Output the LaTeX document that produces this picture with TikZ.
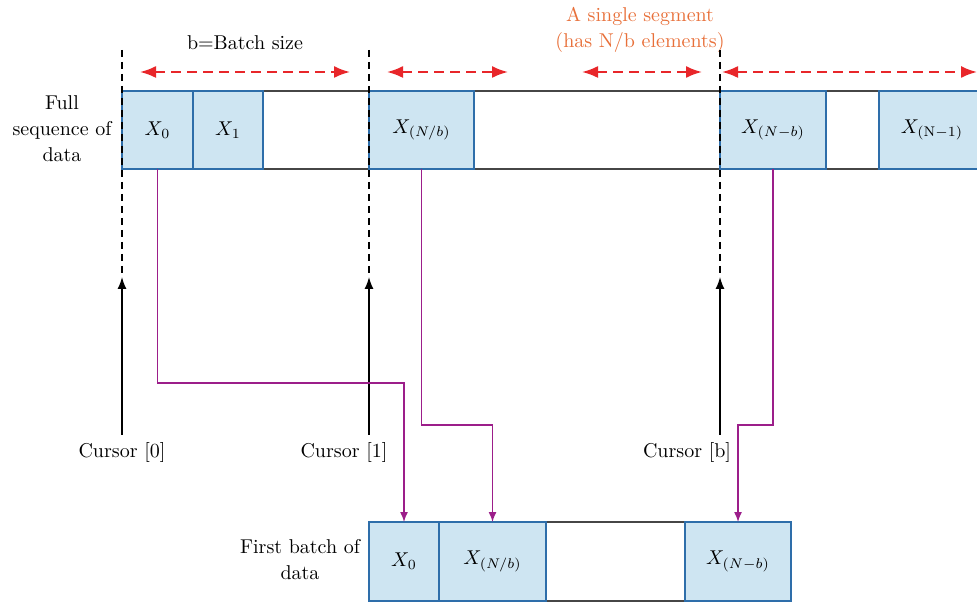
\documentclass[tikz,border=0pt]{standalone}
\usetikzlibrary{positioning,arrows.meta}
\definecolor{cellblue}{RGB}{206,229,242}
\definecolor{celledge}{RGB}{46,110,170}
\definecolor{segred}{RGB}{232,38,42}
\definecolor{segorange}{RGB}{232,112,58}
\definecolor{linkpurple}{RGB}{156,30,138}
\definecolor{framegray}{RGB}{70,70,70}
\begin{document}
\begin{tikzpicture}[x=0.5pt, y=-0.5pt, font=\fontsize{10}{13}\selectfont,
    cell/.style={draw=celledge, fill=cellblue, line width=0.7pt, minimum height=39pt, inner sep=0pt, outer sep=0pt},
    frame/.style={draw=framegray, line width=0.8pt},
    segarrow/.style={segred, line width=1pt, dash pattern=on 5pt off 3pt, {Latex[length=8pt,width=6pt]}-{Latex[length=8pt,width=6pt]}},
    guide/.style={black, line width=0.6pt, dash pattern=on 3.5pt off 2.5pt},
    cursor/.style={black, line width=0.7pt, -{Latex[length=6pt,width=4.5pt]}},
    link/.style={linkpurple, line width=0.7pt, -{Latex[length=5pt,width=4pt]}}]
\useasboundingbox (0,0) rectangle (977,603);
% Full sequence row
\draw[frame] (122,91) -- (977,91);
\draw[frame] (122,169) -- (977,169);
\node[cell, minimum width=35.5pt] (c0) at (157.5,130) {$X_0$};
\node[cell, minimum width=35pt] (c1) at (228,130) {$X_1$};
\node[cell, minimum width=52.5pt] (cNb) at (421.5,130) {$X_{(N/b)}$};
\node[cell, minimum width=53pt] (cNmb) at (773,130) {$X_{(N-b)}$};
\node[cell, minimum width=53pt] (cNm1) at (932,130) {$X_{(\mathrm{N}-1)}$};
\node[align=center] (fulllbl) at (62,129) {Full\\sequence of\\data};
% First batch row
\draw[frame] (369,522) rectangle (791,601);
\node[cell, minimum width=35pt, minimum height=39.5pt] (b0) at (404,561.5) {$X_0$};
\node[cell, minimum width=53.5pt, minimum height=39.5pt] (bNb) at (492.5,561.5) {$X_{(N/b)}$};
\node[cell, minimum width=53pt, minimum height=39.5pt] (bNmb) at (738,561.5) {$X_{(N-b)}$};
\node[align=center] (batchlbl) at (300,560) {First batch of\\data};
% Segment markers
\node (batchsize) at (245,43) {b=Batch size};
\node[segorange, align=center] (seglbl) at (640,30) {A single segment\\(has N/b elements)};
\foreach \a/\b [count=\i] in {140/350, 387/508, 582/702, 722/977} {
    \coordinate (sl\i) at (\a,72);
    \coordinate (sr\i) at (\b,72);
    \draw[segarrow] (sl\i) -- (sr\i);
}
% Cursors
\coordinate (g0) at (122,50);  \coordinate (h0) at (122,277);
\coordinate (g1) at (369,50);  \coordinate (h1) at (369,277);
\coordinate (gb) at (720,50);  \coordinate (hb) at (720,277);
\draw[guide] (g0) -- (h0);
\draw[guide] (g1) -- (h1);
\draw[guide] (gb) -- (hb);
\node (cur0) at (122,452) {Cursor [0]};
\node (cur1) at (344,452) {Cursor [1]};
\node (curb) at (687,452) {Cursor [b]};
\draw[cursor] (cur0.north -| h0) -- (h0);
\draw[cursor] (cur1.north -| h1) -- (h1);
\draw[cursor] (curb.north -| hb) -- (hb);
% Links to first batch
\draw[link] (c0.south) -- ++(0,214) -| (b0.north);
\draw[link] (cNb.south) -- ++(0,256) -| (bNb.north);
\draw[link] (cNmb.south) -- ++(0,256) -| (bNmb.north);
\end{tikzpicture}
\end{document}
